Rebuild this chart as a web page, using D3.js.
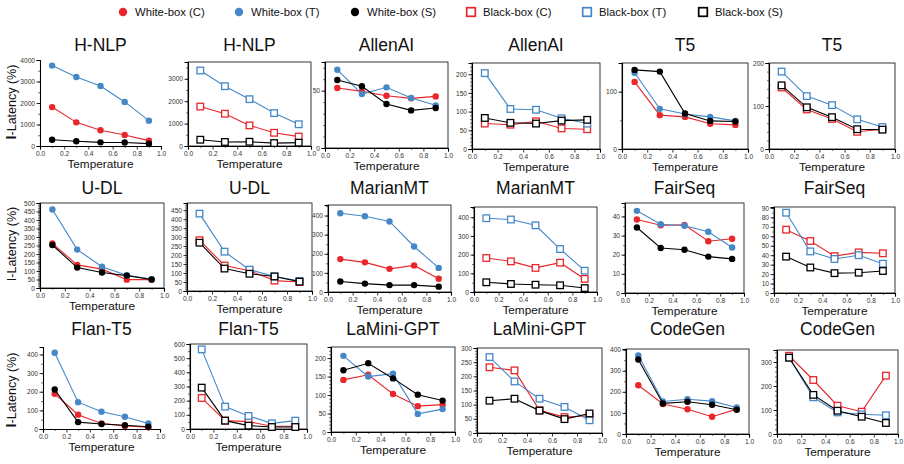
<!DOCTYPE html>
<html><head><meta charset="utf-8">
<script src="https://cdn.jsdelivr.net/npm/d3@7"></script>
<style>body{margin:0;background:#fff}svg{display:block;font-family:"Liberation Sans",Arial,Helvetica,sans-serif}</style>
</head><body><svg id="c" width="904" height="464"></svg>
<script>
// ---- data ----
const temps = [0.1, 0.3, 0.5, 0.7, 0.9];
const titles = ["H-NLP","H-NLP","AllenAI","AllenAI","T5","T5",
  "U-DL","U-DL","MarianMT","MarianMT","FairSeq","FairSeq",
  "Flan-T5","Flan-T5","LaMini-GPT","LaMini-GPT","CodeGen","CodeGen"];
const boxType = ["white","black","white","black","white","black","white","black","white","black","white","black","white","black","white","black","white","black"];
const legendLabels = ["White-box (C)","White-box (T)","White-box (S)","Black-box (C)","Black-box (T)","Black-box (S)"];
const yMax  = [4000,3750,75,230,150,200, 500,490,455,455,47,91, 440,600,230,300,403,350];
const yStep = [1000,1000,50,50,100,100, 50,50,100,100,10,10, 100,100,50,50,100,100];
const yMinor= [500,500,10,10,50,20, 10,10,50,50,5,5, 50,50,10,10,50,20];
const seriesC = [
  [1810,1100,730,510,250],[1760,1440,920,590,420],[52.3,49.4,45.6,43.3,45],[68,65,74,55,53],[117,59,56,44,42],[143,92,70,40,46],
  [262,136,111,49,49],[283,142,113,58,50],[172,155,121,139,69],[182,164,129,157,70],[38.4,35.4,35.6,27,28.3],[67,55,39,43,42],
  [189,77,30,16,9],[219,59,52,19,19],[141,155,103,70,74],[232,221,80,56,61],[231,142,117,82,118],[326,225,118,93,243]];
const seriesT = [
  [3740,3210,2790,2050,1180],[3370,2670,2090,1470,970],[68.3,47,52.9,43.6,37.2],[203,107,105,82,68],[133,70,61,56,49],[180,123,102,69,51],
  [462,226,125,75,52],[431,219,119,81,56],[412,396,369,238,126],[395,388,357,230,114],[42.9,35.9,35.1,32,23.8],[85,44,36,40,31],
  [409,144,93,66,30],[562,158,92,40,59],[206,150,158,49,62],[268,182,121,92,45],[373,154,165,156,126],[318,153,90,82,78]];
const seriesS = [
  [290,220,170,160,110],[280,180,190,130,150],[59.3,53.8,38.4,32.8,34.9],[83,70,68,76,78],[138,135,62,49,48],[148,97,74,46,45],
  [253,120,91,73,50],[269,125,96,81,52],[55,44,36,36,28],[52,43,39,36,21],[34.2,23.5,22.6,19,17.8],[38.5,27,21,21.5,23.3],
  [212,37,27,20,12],[292,59,24,14,14],[167,186,145,101,85],[114,121,79,49,69],[353,145,153,139,115],[318,163,97,72,46]];

// ---- layout ----
const frames = [
  [40,161,60,146],[188,311,62,146],[325,448,62,148],[472,600,63,149],[622,748,63,149],[769,895,63,149],
  [40,164,203,288],[187,312,203,291],[328,451,205,292],[474,597,207,292],[625,744,203,293],[774,895,207,293],
  [43,160,347,429],[190,307,344,429],[331,455,347,432],[477,602,348,433],[626,749,349,434],[777,898,350,434]];
const noFrame = [0,12];
const titleY = [51,194,335];
const colors = {C:"#e8262b", T:"#4488c8", S:"#000"};

const svg = d3.select("#c");

// legend
const lg = svg.append("g");
legendLabels.forEach((lab,i)=>{
  const x = 123 + i*116, key = "CTS"[i%3];
  if (i<3) lg.append("circle").attr("cx",x).attr("cy",12).attr("r",4.2).attr("fill",colors[key]);
  else lg.append("rect").attr("x",x-4.3).attr("y",7.7).attr("width",8.6).attr("height",8.6)
        .attr("fill","none").attr("stroke",colors[key]).attr("stroke-width",1.7);
  lg.append("text").attr("x",x+12).attr("y",16).attr("font-size",11.3).attr("fill","#111").text(lab);
});

titles.forEach((t,i)=>{
  const [l,r,tp,b] = frames[i];
  const row = Math.floor(i/6);
  const x = d3.scaleLinear().domain([0,1]).range([l,r]);
  const y = d3.scaleLinear().domain([0,yMax[i]]).range([b,tp]);
  const g = svg.append("g");
  if (!noFrame.includes(i)) {
    g.append("rect").attr("x",l).attr("y",tp).attr("width",r-l).attr("height",b-tp)
      .attr("fill","none").attr("stroke","#222").attr("stroke-width",0.9);
  }
  // minor ticks
  const yMin = d3.range(0, yMax[i]+1e-9, yMinor[i]);
  g.append("g").attr("transform",`translate(${l},0)`)
    .call(d3.axisLeft(y).tickValues(yMin).tickSize(2).tickFormat(""))
    .call(a=>{a.select(".domain").remove(); a.selectAll("line").attr("stroke","#333").attr("stroke-width",0.7);});
  g.append("g").attr("transform",`translate(0,${b})`)
    .call(d3.axisBottom(x).tickValues(d3.range(0.1,1,0.2)).tickSize(2).tickFormat(""))
    .call(a=>{a.select(".domain").remove(); a.selectAll("line").attr("stroke","#333").attr("stroke-width",0.7);});
  // major axes
  const yt = d3.range(0, yMax[i]+1e-9, yStep[i]);
  const ya = g.append("g").attr("transform",`translate(${l},0)`)
    .call(d3.axisLeft(y).tickValues(yt).tickSize(3.5).tickPadding(1.5).tickFormat(d3.format("d")));
  const xa = g.append("g").attr("transform",`translate(0,${b})`)
    .call(d3.axisBottom(x).tickValues([0,0.2,0.4,0.6,0.8,1.0]).tickSize(3.5).tickPadding(1.5).tickFormat(d3.format(".1f")));
  [ya,xa].forEach(a=>{
    a.select(".domain").attr("stroke","#000").attr("stroke-width",1.1);
    a.selectAll("line").attr("stroke","#000").attr("stroke-width",0.8);
    a.selectAll("text").attr("font-size",6.6).attr("fill","#333").attr("font-family","Liberation Sans,Arial,sans-serif");
  });
  // title
  g.append("text").attr("x",(l+r)/2).attr("y",titleY[row]).attr("text-anchor","middle")
    .attr("font-size",17.5).attr("fill","#111").text(t);
  g.append("text").attr("x",(l+r)/2).attr("y",b+22).attr("text-anchor","middle")
    .attr("font-size",11.8).attr("fill","#111").text("Temperature");
  // series
  const line = d3.line().x((d,k)=>x(temps[k])).y(d=>y(d));
  const isBlack = boxType[i]==="black";
  [["C",seriesC[i]],["T",seriesT[i]],["S",seriesS[i]]].forEach(([k,vals])=>{
    g.append("path").attr("d",line(vals)).attr("fill","none").attr("stroke",colors[k]).attr("stroke-width",1.1);
    if (!isBlack) {
      g.selectAll(null).data(vals).enter().append("circle")
        .attr("cx",(d,j)=>x(temps[j])).attr("cy",d=>y(d)).attr("r",3.2).attr("fill",colors[k]);
    } else {
      g.selectAll(null).data(vals).enter().append("rect")
        .attr("x",(d,j)=>x(temps[j])-3.3).attr("y",d=>y(d)-3.3).attr("width",6.6).attr("height",6.6)
        .attr("fill","#fff").attr("stroke",colors[k]).attr("stroke-width",1.3);
    }
  });
});

// y-axis labels
const yLabY = [102,244,390];
yLabY.forEach((cy,ri)=>{
  const t = svg.append("text").attr("transform",`translate(16,${cy}) rotate(-90)`)
    .attr("text-anchor","middle").attr("font-size",12.5).attr("fill","#111");
  if (ri===1) t.text("I-Latency (%)");
  else { t.append("tspan").attr("font-weight","bold").attr("font-size",14).text("I"); t.append("tspan").text("-Latency (%)"); }
});
</script></body></html>
